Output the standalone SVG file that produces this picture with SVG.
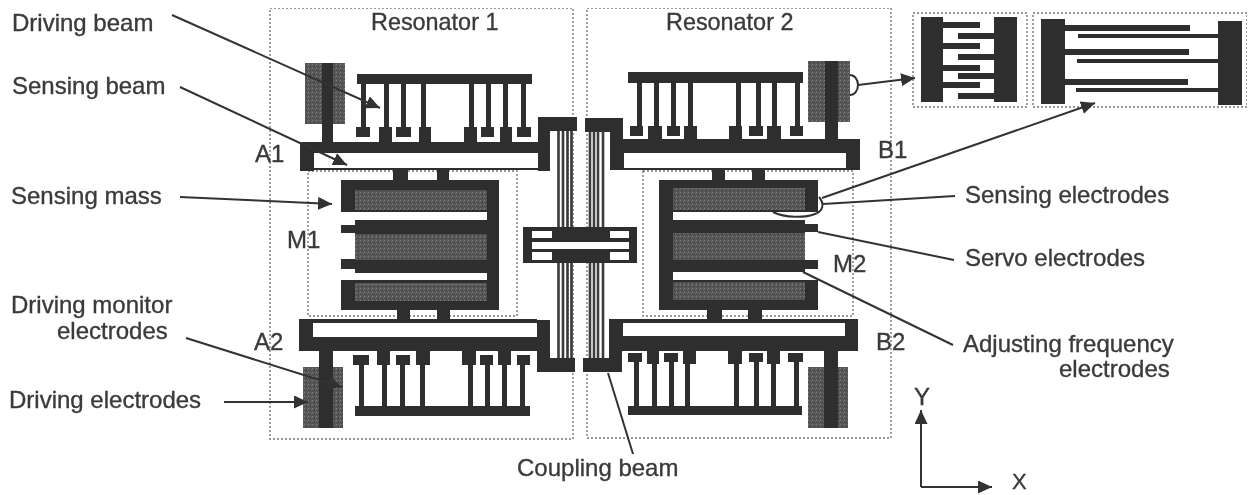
<svg xmlns="http://www.w3.org/2000/svg" width="1249" height="495" viewBox="0 0 1249 495">
<style>
.d{fill:#2f2f2f}.g{fill:url(#noise)}.w{fill:#fff}
.box{fill:none;stroke:#777;stroke-width:1.4;stroke-dasharray:2 2}
.ln{fill:none;stroke:#333;stroke-width:2}
.cb{stroke:#3a3a3a;stroke-width:2.6;fill:none}
.ah{fill:#333}
text{font-family:"Liberation Sans",Arial,sans-serif;font-size:24px;fill:#3a3a3a;stroke:#3a3a3a;stroke-width:.35}
</style>
<defs>
<pattern id="noise" width="4" height="4" patternUnits="userSpaceOnUse"><rect width="4" height="4" fill="#565656"/><rect width="1" height="1" fill="#828282"/><rect x="2" y="2" width="1" height="1" fill="#383838"/><rect x="3" y="1" width="1" height="1" fill="#6e6e6e"/></pattern>
<marker id="arr" markerUnits="userSpaceOnUse" markerWidth="16" markerHeight="14" refX="14" refY="6.500" orient="auto"><path d="M0 0L14 6.500L0 13z" class="ah"/></marker>
<filter id="soft" x="0" y="0" width="100%" height="100%"><feGaussianBlur stdDeviation="0.6"/></filter>
</defs>
<rect width="1249" height="495" fill="#fff"/>
<g filter="url(#soft)">
<g id="resonator-1">
<rect class="box" x="270" y="8" width="303" height="431"/>
<rect class="box" x="308" y="171" width="209" height="145"/>
<g id="r1-top-comb">
<rect class="g" x="305" y="63" width="40" height="61"/><rect class="d" x="322" y="63" width="11" height="82"/>
<rect class="d" x="357" y="74" width="175" height="10"/>
<path class="d" d="M361 84h5v45h-5zM384 84h5v45h-5zM401 84h5v45h-5zM421 84h5v45h-5zM469 84h5v45h-5zM486 84h5v45h-5zM503 84h5v45h-5zM521 84h5v45h-5z"/>
<path class="d" d="M356 127h14v10h-14zM379 127h13v18h-13zM396 127h15v10h-15zM419 127h12v18h-12zM464 127h13v18h-13zM481 127h13v10h-13zM500 127h12v18h-12zM517 127h14v10h-14z"/>
</g>
<g id="r1-top-frame">
<path class="d" d="M300 142H538V117H577V131H550V171H538V153H314V168H538V170H314V171H300z"/>
</g>
<g id="m1-mass">
<path class="d" d="M393 168h15v13h-15zM437 168h12v13h-12z"/>
<rect class="d" x="341" y="180" width="158" height="130"/>
<rect class="g" x="355" y="190" width="132" height="20"/>
<rect class="w" x="355" y="212" width="132" height="8"/>
<rect class="w" x="341" y="212" width="14" height="13"/>
<rect class="w" x="341" y="233" width="14" height="26"/>
<rect class="g" x="355" y="234" width="132" height="26"/>
<rect class="w" x="341" y="269" width="14" height="11"/>
<rect class="w" x="355" y="273" width="132" height="7"/>
<rect class="g" x="355" y="283" width="132" height="18"/>
<path class="d" d="M397 310h13v11h-13zM437 310h13v11h-13z"/>
</g>
<g id="r1-bottom-frame">
<path class="d" d="M299 319H537V323H313V337H537V320H550V358H575V372H537V351H299z"/>
</g>
<g id="r1-bottom-comb">
<path class="d" d="M353 355h16v10h-16zM377 351h13v14h-13zM396 355h14v10h-14zM416 351h14v14h-14zM462 351h14v14h-14zM480 355h13v10h-13zM498 351h13v14h-13zM517 355h13v10h-13z"/>
<path class="d" d="M359 365h5v42h-5zM382 365h5v42h-5zM400 365h5v42h-5zM420 365h5v42h-5zM468 365h5v42h-5zM485 365h5v42h-5zM502 365h5v42h-5zM520 365h5v42h-5z"/>
<rect class="d" x="355" y="406" width="175" height="10"/>
<rect class="g" x="303" y="367" width="40" height="61"/><rect class="d" x="319" y="351" width="14" height="77"/>
</g>
</g>
<g id="resonator-2">
<rect class="box" x="587" y="8" width="304" height="430"/>
<rect class="box" x="643" y="171" width="210" height="145"/>
<g id="r2-top-comb">
<rect class="g" x="808" y="61" width="42" height="61"/><rect class="d" x="825" y="61" width="13" height="80"/>
<rect class="d" x="628" y="72" width="175" height="11"/>
<path class="d" d="M637 83h5v45h-5zM654 83h5v45h-5zM671 83h5v45h-5zM688 83h5v45h-5zM736 83h5v45h-5zM756 83h5v45h-5zM772 83h5v45h-5zM795 83h5v45h-5z"/>
<path class="d" d="M630 126h13v10h-13zM648 126h14v16h-14zM667 126h13v10h-13zM684 126h13v16h-13zM729 126h13v16h-13zM749 126h14v10h-14zM767 126h14v16h-14zM790 126h13v10h-13z"/>
</g>
<g id="r2-top-frame">
<path class="d" d="M585 118H623V139H860V170H612V168H846V153H624V170H610V132H585z"/>
</g>
<g id="m2-mass">
<path class="d" d="M712 168h13v13h-13zM752 168h13v13h-13z"/>
<rect class="d" x="659" y="180" width="159" height="130"/>
<rect class="g" x="673" y="188" width="132" height="22"/>
<rect class="w" x="673" y="212" width="132" height="8"/>
<rect class="w" x="805" y="212" width="13" height="12"/>
<rect class="g" x="673" y="233" width="132" height="27"/>
<rect class="w" x="805" y="232" width="13" height="28"/>
<rect class="w" x="805" y="269" width="13" height="11"/>
<rect class="w" x="673" y="272" width="139" height="8"/>
<rect class="g" x="673" y="282" width="132" height="18"/>
<path class="d" d="M707 310h15v10h-15zM748 310h14v10h-14z"/>
</g>
<g id="r2-bottom-frame">
<path class="d" d="M609 319H858V351H622V372H583V358H609zM623 323V336H845V323z" fill-rule="evenodd"/>
</g>
<g id="r2-bottom-comb">
<path class="d" d="M628 353h14v9h-14zM647 351h12v13h-12zM664 353h14v9h-14zM683 351h13v13h-13zM728 351h14v13h-14zM749 353h14v9h-14zM767 351h13v13h-13zM788 353h15v9h-15z"/>
<path class="d" d="M634 362h5v45h-5zM652 362h5v45h-5zM669 362h5v45h-5zM685 362h5v45h-5zM734 362h5v45h-5zM754 362h5v45h-5zM771 362h5v45h-5zM794 362h5v45h-5z"/>
<rect class="d" x="628" y="406" width="174" height="9"/>
<rect class="g" x="808" y="367" width="40" height="61"/><rect class="d" x="824" y="351" width="14" height="77"/>
</g>
</g>
<g id="coupling-beam">
<path class="cb" d="M558.500 131V358M563 131V358M567.500 131V358M571.500 131V358M590 131V358M594 131V358M598 131V358M603 131V358"/>
<rect class="d" x="523" y="227" width="114" height="36"/>
<path class="w" d="M532 231h20v7h-20zM610 231h19v7h-19zM532 242h97v7h-97zM532 252h20v8h-20zM610 252h19v8h-19z"/>
</g>
<g id="inset-driving">
<rect class="box" x="913" y="13" width="114" height="94"/>
<rect class="d" x="921" y="17" width="22" height="85"/><rect class="d" x="994" y="17" width="23" height="85"/>
<path class="d" d="M943 22h37v6h-37zM943 43h37v6h-37zM943 65h37v6h-37zM943 82h37v6h-37zM958 33h36v6h-36zM958 54h36v6h-36zM958 73h36v6h-36zM958 93h36v6h-36z"/>
</g>
<g id="inset-sensing">
<rect class="box" x="1033" y="13" width="214" height="94"/>
<rect class="d" x="1041" y="19" width="24" height="85"/><rect class="d" x="1218" y="21" width="24" height="84"/>
<path class="d" d="M1065 25h125v6h-125zM1065 49h124v6h-124zM1065 79h123v6h-123zM1078 34h140v4h-140zM1077 59h141v4h-141zM1076 88h142v4h-142z"/>
</g>
<g id="connectors">
<path class="ln" marker-end="url(#arr)" d="M172 15L380 108"/>
<path class="ln" marker-end="url(#arr)" d="M180 87L347 165"/>
<path class="ln" marker-end="url(#arr)" d="M180 197L332 204"/>
<path class="ln" marker-end="url(#arr)" d="M186 338L342 387"/>
<path class="ln" marker-end="url(#arr)" d="M224 402L308 402"/>
<path class="ln" d="M608 373L633 454"/>
<path class="ln" marker-end="url(#arr)" d="M858 85L915 78"/>
<path class="ln" d="M850 75a8 10 0 0 1 0 20"/>
<path class="ln" marker-end="url(#arr)" d="M822 198L1095 103"/>
<path class="ln" d="M955 196L823 204"/>
<path class="ln" d="M773 212C785 218 805 218 815 214C823 211 825 204 819 197"/>
<path class="ln" d="M954 260L818 232"/>
<path class="ln" d="M953 345L803 272"/>
<path class="ln" marker-end="url(#arr)" d="M921 487V410"/>
<path class="ln" marker-end="url(#arr)" d="M921 487H992"/>
</g>
<g id="labels">
<text x="12" y="31">Driving beam</text>
<text x="12" y="94">Sensing beam</text>
<text x="11" y="204">Sensing mass</text>
<text x="11" y="313">Driving monitor</text>
<text x="57" y="339">electrodes</text>
<text x="9" y="408">Driving electrodes</text>
<text x="371" y="30" style="font-size:23.4px">Resonator 1</text>
<text x="666" y="30" style="font-size:23.4px">Resonator 2</text>
<text x="255" y="162">A1</text>
<text x="254" y="350">A2</text>
<text x="287" y="248">M1</text>
<text x="833" y="272">M2</text>
<text x="878" y="158">B1</text>
<text x="876" y="350">B2</text>
<text x="965" y="203">Sensing electrodes</text>
<text x="965" y="266">Servo electrodes</text>
<text x="963" y="352">Adjusting frequency</text>
<text x="1059" y="377">electrodes</text>
<text x="517" y="476">Coupling beam</text>
<text x="914" y="405">Y</text>
<text x="1012" y="489" style="font-size:22px">X</text>
</g>
</g>
</svg>
